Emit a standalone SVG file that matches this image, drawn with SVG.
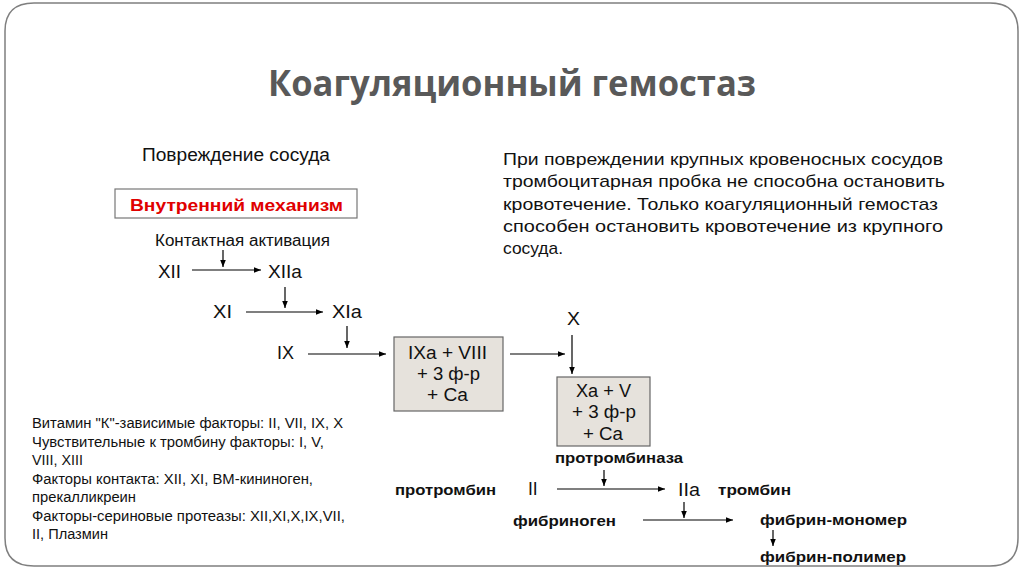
<svg xmlns="http://www.w3.org/2000/svg" width="1024" height="574" viewBox="0 0 1024 574">
<defs>
<marker id="ah" viewBox="0 0 10 10" refX="10" refY="5" markerWidth="7" markerHeight="7" markerUnits="userSpaceOnUse" orient="auto">
<path d="M0,1 L10,5 L0,9 z" fill="#000"/>
</marker>
<style>
.t{font-family:"Liberation Sans",Arial,sans-serif;fill:#111;}
.f18{font-size:17.5px;}
.f16{font-size:16px;}
.fb{font-size:15.5px;font-weight:bold;}
.f14{font-size:14px;}
.c{text-anchor:middle;}
.arr{stroke:#000;stroke-width:1.2;fill:none;marker-end:url(#ah);}
.box{fill:#e6e2dc;stroke:#666;stroke-width:1.2;}
</style>
</defs>
<rect x="0" y="0" width="1024" height="574" fill="#fff"/>
<path d="M34,3 H990 Q1018,3 1018,31 V538 Q1018,566 990,566 H34 Q5,566 5,538 V31 Q5,3 34,3 Z" fill="#fff" stroke="#7f7f7f" stroke-width="1.5"/>
<text x="512" y="96" text-anchor="middle" font-weight="bold" font-family="'Open Sans','Liberation Sans',sans-serif" font-size="36" fill="#595959" textLength="488" lengthAdjust="spacingAndGlyphs">Коагуляционный гемостаз</text>

<g id="injury"><text class="t f18" x="142" y="161" textLength="188" lengthAdjust="spacingAndGlyphs">Повреждение сосуда</text></g>
<g id="intrinsic">
<rect x="115" y="189" width="242" height="29" fill="#fff" stroke="#777" stroke-width="1.2"/>
<text x="130" y="211" font-family="'Liberation Sans',Arial,sans-serif" font-weight="bold" font-size="17" fill="#e00000" textLength="213" lengthAdjust="spacingAndGlyphs">Внутренний механизм</text>
</g>
<g id="contact"><text class="t f16" x="155" y="246" textLength="175" lengthAdjust="spacingAndGlyphs">Контактная активация</text></g>
<g id="xii"><text class="t f18" x="158" y="278" textLength="23" lengthAdjust="spacingAndGlyphs">XII</text></g>
<g id="xiia"><text class="t f18" x="268" y="278" textLength="34" lengthAdjust="spacingAndGlyphs">XIIa</text></g>
<g id="xi"><text class="t f18" x="213" y="318" textLength="19" lengthAdjust="spacingAndGlyphs">XI</text></g>
<g id="xia"><text class="t f18" x="332" y="318" textLength="30" lengthAdjust="spacingAndGlyphs">XIa</text></g>
<g id="ix"><text class="t f18" x="277" y="359" textLength="17" lengthAdjust="spacingAndGlyphs">IX</text></g>
<g id="ixa">
<rect class="box" x="394" y="337" width="109" height="74"/>
<text class="t f18" x="408" y="359" textLength="79" lengthAdjust="spacingAndGlyphs">IXa + VIII</text>
<text class="t f18" x="417" y="380" textLength="63" lengthAdjust="spacingAndGlyphs">+ 3 ф-р</text>
<text class="t f18" x="427" y="401" textLength="41" lengthAdjust="spacingAndGlyphs">+ Ca</text>
</g>
<g id="x"><text class="t f18" x="567" y="325" textLength="13" lengthAdjust="spacingAndGlyphs">X</text></g>
<g id="xa">
<rect class="box" x="557" y="377" width="93" height="69"/>
<text class="t f18" x="576" y="397" textLength="55" lengthAdjust="spacingAndGlyphs">Xa + V</text>
<text class="t f18" x="572" y="418" textLength="64" lengthAdjust="spacingAndGlyphs">+ 3 ф-р</text>
<text class="t f18" x="583" y="440" textLength="40" lengthAdjust="spacingAndGlyphs">+ Ca</text>
</g>
<g id="prothrombinase"><text class="t fb" x="555" y="463" textLength="128" lengthAdjust="spacingAndGlyphs">протромбиназа</text></g>
<g id="prothrombin"><text class="t fb" x="395" y="495" textLength="101" lengthAdjust="spacingAndGlyphs">протромбин</text></g>
<g id="ii"><text class="t f18" x="528" y="495">II</text></g>
<g id="iia"><text class="t f18" x="678" y="496" textLength="22" lengthAdjust="spacingAndGlyphs">IIa</text></g>
<g id="thrombin"><text class="t fb" x="718" y="495" textLength="73" lengthAdjust="spacingAndGlyphs">тромбин</text></g>
<g id="fibrinogen"><text class="t fb" x="513" y="526" textLength="103" lengthAdjust="spacingAndGlyphs">фибриноген</text></g>
<g id="fibrin-monomer"><text class="t fb" x="760" y="525" textLength="147" lengthAdjust="spacingAndGlyphs">фибрин-мономер</text></g>
<g id="fibrin-polymer"><text class="t fb" x="760" y="562" textLength="146" lengthAdjust="spacingAndGlyphs">фибрин-полимер</text></g>

<g id="notes" class="t f14">
<text x="32" y="428" textLength="311" lengthAdjust="spacingAndGlyphs">Витамин "К"-зависимые факторы: II, VII, IX, X</text>
<text x="32" y="447" textLength="292" lengthAdjust="spacingAndGlyphs">Чувствительные к тромбину факторы: I, V,</text>
<text x="32" y="465" textLength="51" lengthAdjust="spacingAndGlyphs">VIII, XIII</text>
<text x="32" y="484" textLength="281" lengthAdjust="spacingAndGlyphs">Факторы контакта: XII, XI, ВМ-кининоген,</text>
<text x="32" y="502" textLength="104" lengthAdjust="spacingAndGlyphs">прекалликреин</text>
<text x="32" y="521" textLength="313" lengthAdjust="spacingAndGlyphs">Факторы-сериновые протеазы: XII,XI,X,IX,VII,</text>
<text x="32" y="539" textLength="76" lengthAdjust="spacingAndGlyphs">II, Плазмин</text>
</g>
<g id="description" class="t" font-size="17">
<text x="503" y="165" textLength="440" lengthAdjust="spacingAndGlyphs">При повреждении крупных кровеносных сосудов</text>
<text x="503" y="187" textLength="442" lengthAdjust="spacingAndGlyphs">тромбоцитарная пробка не способна остановить</text>
<text x="503" y="210" textLength="435" lengthAdjust="spacingAndGlyphs">кровотечение. Только коагуляционный гемостаз</text>
<text x="503" y="232" textLength="440" lengthAdjust="spacingAndGlyphs">способен остановить кровотечение из крупного</text>
<text x="503" y="254" textLength="60" lengthAdjust="spacingAndGlyphs">сосуда.</text>
</g>

<g id="connectors">
<line class="arr" x1="223" y1="250" x2="223" y2="267"/>
<line class="arr" x1="192" y1="270" x2="261" y2="270"/>
<line class="arr" x1="285" y1="287" x2="285" y2="308"/>
<line class="arr" x1="246" y1="312" x2="323" y2="312"/>
<line class="arr" x1="347" y1="326" x2="347" y2="348"/>
<line class="arr" x1="308" y1="354" x2="386" y2="354"/>
<line class="arr" x1="510" y1="354" x2="565" y2="354"/>
<line class="arr" x1="572" y1="335" x2="572" y2="374"/>
<line class="arr" x1="604" y1="470" x2="604" y2="486"/>
<line class="arr" x1="557" y1="489" x2="665" y2="489"/>
<line class="arr" x1="684" y1="502" x2="684" y2="518"/>
<line class="arr" x1="643" y1="520" x2="733" y2="520"/>
<line class="arr" x1="773" y1="530" x2="773" y2="546"/>
</g>
</svg>
